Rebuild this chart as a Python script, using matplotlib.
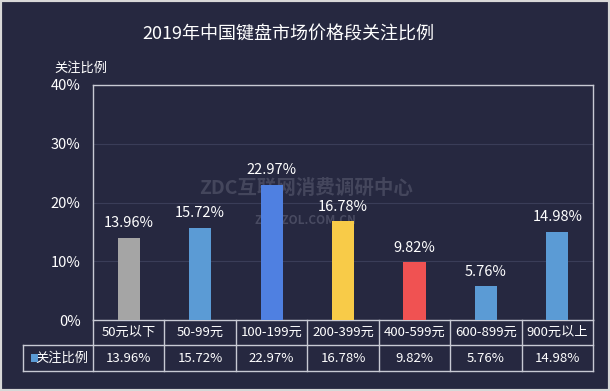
import matplotlib.pyplot as plt
from matplotlib.patches import Rectangle
from matplotlib.ticker import FuncFormatter
from matplotlib.transforms import blended_transform_factory

plt.rcParams['font.family'] = ['Noto Sans CJK SC', 'DejaVu Sans']

categories = ['50元以下', '50-99元', '100-199元', '200-399元', '400-599元', '600-899元', '900元以上']
values = [13.96, 15.72, 22.97, 16.78, 9.82, 5.76, 14.98]
colors = ['#A5A5A5', '#5B9BD5', '#4F80E1', '#F8CB48', '#F05252', '#5B9BD5', '#5B9BD5']
title = '2019年中国键盘市场价格段关注比例'
series_name = '关注比例'

bg = '#262840'
line_c = '#C8CAD4'

fig = plt.figure(figsize=(6.1, 3.91), dpi=100, facecolor=bg)
ax = fig.add_axes([93 / 610, 1 - 320 / 391, 500 / 610, 235 / 391])
ax.set_facecolor(bg)

n = len(categories)
x = range(n)
ax.bar(x, values, width=0.31, color=colors, zorder=3)
for xi, v in zip(x, values):
    ax.text(xi, v + 1.3, '%.2f%%' % v, ha='center', va='bottom', color='white', fontsize=10.5, zorder=4)

ax.set_xlim(-0.5, n - 0.5)
ax.set_ylim(0, 40)
ax.set_yticks([0, 10, 20, 30, 40])
ax.yaxis.set_major_formatter(FuncFormatter(lambda v, p: '%d%%' % v))
ax.tick_params(axis='y', length=0, pad=9, colors='white', labelsize=10.5)
ax.set_xticks([])
ax.grid(axis='y', color='#3A3D58', linewidth=0.8, zorder=0)
for s in ['left', 'top', 'right']:
    ax.spines[s].set_color(line_c)
    ax.spines[s].set_linewidth(1)
ax.spines['bottom'].set_visible(False)

# watermark
ax.text(2.48, 22.4, 'ZDC互联网消费调研中心', ha='center', va='center', fontsize=14,
        fontweight='bold', color='#8A8CA0', alpha=0.3, zorder=2)
ax.text(2.47, 16.9, 'ZDC.ZOL.COM.CN', ha='center', va='center', fontsize=8.5,
        fontweight='bold', color='#8A8CA0', alpha=0.35, zorder=2)

# data table under the axis, drawn by hand
tr = blended_transform_factory(ax.transData, ax.transAxes)
h1 = 25 / 235
h2 = 51 / 235
left = -0.5 - 70 / (500 / n)
kw = dict(color=line_c, linewidth=1, transform=tr, clip_on=False)
ax.plot([-0.5, n - 0.5], [0, 0], **kw)
ax.plot([left, n - 0.5], [-h1, -h1], **kw)
ax.plot([left, n - 0.5], [-h2, -h2], **kw)
ax.plot([left, left], [-h1, -h2], **kw)
for i in range(n + 1):
    ax.plot([i - 0.5, i - 0.5], [0, -h2], **kw)
for i, (c, v) in enumerate(zip(categories, values)):
    ax.text(i, -h1 / 2, c, ha='center', va='center', color='white', fontsize=9.5, transform=tr)
    ax.text(i, -(h1 + h2) / 2, '%.2f%%' % v, ha='center', va='center', color='white', fontsize=9.5, transform=tr)
ax.text(-0.5 - 0.06, -(h1 + h2) / 2, series_name, ha='right', va='center', color='white', fontsize=9.5, transform=tr)

fig.patches.append(Rectangle((31 / 610, 1 - 362 / 391), 7 / 610, 8 / 391, transform=fig.transFigure,
                             facecolor='#5B9BD5', edgecolor='none', zorder=10))

fig.text(81 / 610, 1 - 68 / 391, series_name, ha='center', va='center', color='white', fontsize=9.5)
fig.text(288 / 610, 1 - 35 / 391, title, ha='center', va='center', color='white', fontsize=13)

fig.patches.append(Rectangle((0, 0), 1, 1, transform=fig.transFigure, facecolor='none',
                             edgecolor='#D8D8D8', linewidth=3, zorder=20))

fig.savefig('out.png', dpi=100, facecolor=bg)
